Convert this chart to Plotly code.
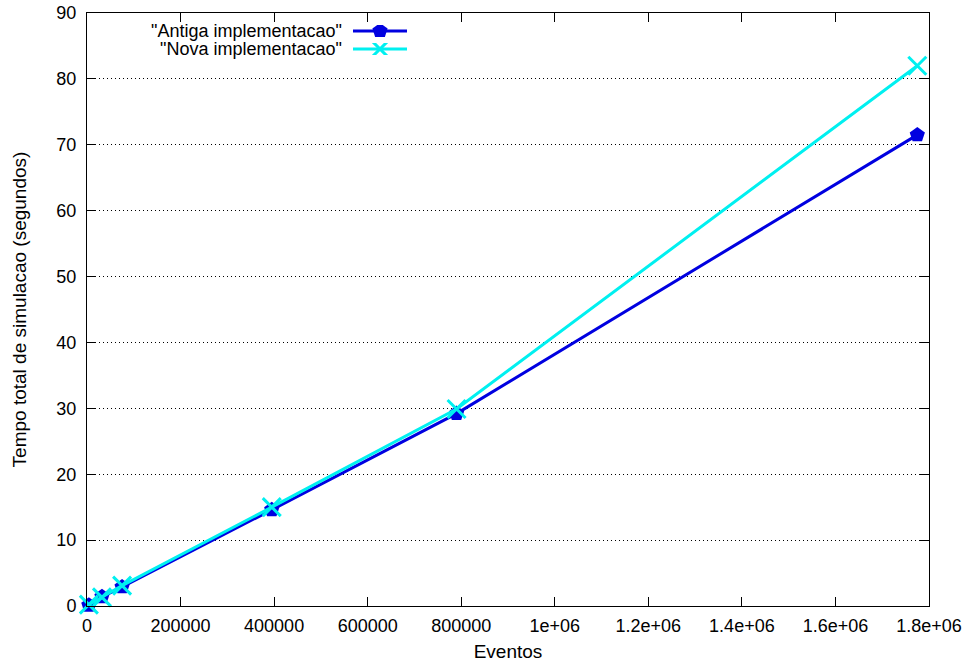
import plotly.graph_objects as go

eventos = [4000, 32000, 75000, 395000, 790000, 1775000]
antiga = [0.1, 1.4, 2.9, 14.6, 29.2, 71.5]
nova = [0.2, 1.3, 3.1, 15.0, 29.9, 82.0]

x_tickvals = [0, 200000, 400000, 600000, 800000, 1000000, 1200000, 1400000, 1600000, 1800000]
x_ticktext = ["0", "200000", "400000", "600000", "800000", "1e+06", "1.2e+06", "1.4e+06", "1.6e+06", "1.8e+06"]
y_tickvals = [0, 10, 20, 30, 40, 50, 60, 70, 80, 90]

names = ['"Antiga implementacao"', '"Nova implementacao"']
BLUE = "#0000e0"
CYAN = "#00f0f0"
FONT = "Liberation Sans, Arial, sans-serif"
FS_TICK = 18
FS = 19
FS_LEG = 18

fig = go.Figure()
fig.add_trace(go.Scatter(x=eventos, y=antiga, mode="lines+markers", name=names[0],
                         line=dict(color=BLUE, width=3),
                         marker=dict(symbol="pentagon", size=16, color=BLUE),
                         showlegend=False, cliponaxis=False))
fig.add_trace(go.Scatter(x=eventos, y=nova, mode="lines+markers", name=names[1],
                         line=dict(color=CYAN, width=3),
                         marker=dict(symbol="x-thin", size=18, color=CYAN,
                                     line=dict(color=CYAN, width=3)),
                         showlegend=False, cliponaxis=False))

# Legend samples (gnuplot style: text on the left, sample on the right)
fig.add_trace(go.Scatter(x=[0.5], y=[0.5], xaxis="x2", yaxis="y2", mode="markers",
                         marker=dict(symbol="pentagon", size=16, color=BLUE),
                         showlegend=False, hoverinfo="skip"))
fig.add_trace(go.Scatter(x=[0.5], y=[0.5], xaxis="x3", yaxis="y3", mode="markers",
                         marker=dict(symbol="x-thin", size=18, color=CYAN,
                                     line=dict(color=CYAN, width=3)),
                         showlegend=False, hoverinfo="skip"))

W, H = 967, 663
L, R, T, B = 87, 38, 13, 57
pw, ph = W - L - R, H - T - B

def px_to_paper(xp, yp):
    return (xp - L) / pw, 1 - (yp - T) / ph

legend_rows = [(31, BLUE, names[0]), (49, CYAN, names[1])]
for i, (yp, col, txt) in enumerate(legend_rows):
    tx, ty = px_to_paper(343, yp)
    fig.add_annotation(x=tx, y=ty, xref="paper", yref="paper", text=txt,
                       showarrow=False, xanchor="right", yanchor="middle",
                       borderpad=0,
                       font=dict(family=FONT, size=FS_LEG, color="black"))
    x0, yy = px_to_paper(353, yp)
    x1, _ = px_to_paper(407, yp)
    fig.add_shape(type="line", xref="paper", yref="paper", x0=x0, x1=x1, y0=yy, y1=yy,
                  line=dict(color=col, width=3))

def dom(yp):
    cx, cy = px_to_paper(380, yp)
    return [cx - 0.01, cx + 0.01], [cy - 0.01, cy + 0.01]

d2x, d2y = dom(31)
d3x, d3y = dom(49)

axis_common = dict(showline=True, linecolor="black", linewidth=1, mirror="allticks",
                   ticks="inside", ticklen=9, tickcolor="black", tickwidth=1,
                   tickfont=dict(family=FONT, size=FS_TICK, color="black"), zeroline=False,
                   automargin=False, ticklabeloverflow="allow")

fig.update_layout(
    width=W, height=H,
    margin=dict(l=L, r=R, t=T, b=B, autoexpand=False),
    paper_bgcolor="white", plot_bgcolor="white",
    font=dict(family=FONT, size=FS, color="black"),
    xaxis=dict(range=[0, 1800000], tickvals=x_tickvals, ticktext=x_ticktext,
               showgrid=False, ticklabelstandoff=3,
               title=dict(text="Eventos", font=dict(family=FONT, size=FS), standoff=10),
               **axis_common),
    yaxis=dict(range=[0, 90], tickvals=y_tickvals, ticklabelstandoff=6,
               showgrid=True, gridcolor="black", griddash="1px,3px", gridwidth=1,
               title=dict(text="Tempo total de simulacao (segundos)", font=dict(family=FONT, size=FS), standoff=24),
               **axis_common),
    xaxis2=dict(domain=d2x, range=[0, 1], visible=False, anchor="y2"),
    yaxis2=dict(domain=d2y, range=[0, 1], visible=False, anchor="x2"),
    xaxis3=dict(domain=d3x, range=[0, 1], visible=False, anchor="y3"),
    yaxis3=dict(domain=d3y, range=[0, 1], visible=False, anchor="x3"),
    showlegend=False,
)

fig.write_html("out.html", config={"displayModeBar": False},
               post_script="document.body.style.margin='0';document.body.style.overflow='hidden';")
